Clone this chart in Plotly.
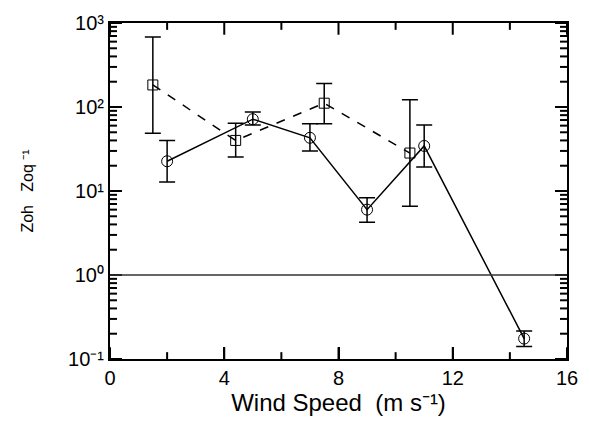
import plotly.graph_objects as go

# Data
sq_x = [1.5, 4.4, 7.5, 10.5]
sq_y = [183, 40, 111, 28.3]
sq_hi = [681, 64, 191, 122]
sq_lo = [48.8, 25.4, 63, 6.6]

ci_x = [2, 5, 7, 9, 11, 14.5]
ci_y = [22.6, 71.6, 43, 6.0, 34.4, 0.175]
ci_hi = [40, 87.3, 63, 8.3, 61, 0.215]
ci_lo = [12.8, 61, 30, 4.25, 19.3, 0.141]

ref_y = 1.0

x_ticks = [0, 4, 8, 12, 16]
x_minor = [2, 6, 10, 14]
y_tickvals = [0.1, 1, 10, 100, 1000]
y_ticktext = ["10\u207b\u00b9", "10\u2070", "10\u00b9", "10\u00b2", "10\u00b3"]
y_minor = [m * d for d in [0.1, 1, 10, 100] for m in range(2, 10)]

x_title = "Wind Speed  (m s\u207b\u00b9)"
y_title = "Zoh   Zoq \u207b\u00b9"

FONT = "Arial"
XR = [0, 16]
YR = [-1, 3]  # log10 range

W, H = 590, 429
ML, MR, MT, MB = 110, 22, 15, 70
PW, PH = W - ML - MR, H - MT - MB
MAJ, MIN = 12, 7  # tick lengths in px

fig = go.Figure()

fig.add_hline(y=ref_y, line=dict(color="#333333", width=1.5))

fig.add_trace(go.Scatter(
    x=sq_x, y=sq_y, mode="lines+markers",
    line=dict(color="black", width=1.5, dash="dash"),
    marker=dict(symbol="square-open", size=10, color="black", line=dict(width=1)),
    error_y=dict(type="data", symmetric=False,
                 array=[h - v for h, v in zip(sq_hi, sq_y)],
                 arrayminus=[v - l for v, l in zip(sq_y, sq_lo)],
                 color="black", thickness=1.5, width=8),
    showlegend=False, hoverinfo="skip"))

fig.add_trace(go.Scatter(
    x=ci_x, y=ci_y, mode="lines+markers",
    line=dict(color="black", width=1.5),
    marker=dict(symbol="circle-open", size=11, color="black", line=dict(width=1)),
    error_y=dict(type="data", symmetric=False,
                 array=[h - v for h, v in zip(ci_hi, ci_y)],
                 arrayminus=[v - l for v, l in zip(ci_y, ci_lo)],
                 color="black", thickness=1.5, width=8),
    showlegend=False, hoverinfo="skip"))

# inward tick marks on all four sides, built from the tick value lists
tx, ty = [], []
for vals, ln in ((x_ticks, MAJ), (x_minor, MIN)):
    dy = ln / PH * (YR[1] - YR[0])
    for v in vals:
        tx += [v, v, None, v, v, None]
        ty += [10 ** YR[0], 10 ** (YR[0] + dy), None, 10 ** (YR[1] - dy), 10 ** YR[1], None]
for vals, ln in ((y_tickvals, MAJ), (y_minor, MIN)):
    dx = ln / PW * (XR[1] - XR[0])
    for v in vals:
        tx += [XR[0], XR[0] + dx, None, XR[1] - dx, XR[1], None]
        ty += [v, v, None, v, v, None]
fig.add_trace(go.Scatter(x=tx, y=ty, mode="lines", line=dict(color="black", width=2),
                         connectgaps=False, showlegend=False, hoverinfo="skip"))

fig.update_layout(
    width=W, height=H,
    margin=dict(l=ML, r=MR, t=MT, b=MB),
    paper_bgcolor="white", plot_bgcolor="white",
    font=dict(family=FONT, color="black", size=20),
)

fig.update_xaxes(
    range=[XR[0], XR[1] + 1e-4], tickmode="array", tickvals=x_ticks,
    ticks="inside", ticklen=MAJ, tickwidth=2, tickcolor="black",
    showline=True, linecolor="black", linewidth=2, mirror=True,
    showgrid=False, zeroline=False,
    title=dict(text=x_title, standoff=6),
    tickfont=dict(size=20, color="black"),
)

fig.update_yaxes(
    type="log", range=[YR[0], YR[1] + 1e-4], tickmode="array",
    tickvals=y_tickvals, ticktext=y_ticktext,
    ticks="inside", ticklen=MAJ, tickwidth=2, tickcolor="black",
    showline=True, linecolor="black", linewidth=2, mirror=True,
    showgrid=False, zeroline=False,
    title=dict(text=y_title, standoff=30, font=dict(size=16, color="black")),
    tickfont=dict(size=20, color="black"),
)

fig.write_html("out.html", config={"displayModeBar": False},
               post_script="document.body.style.margin='0px';")
